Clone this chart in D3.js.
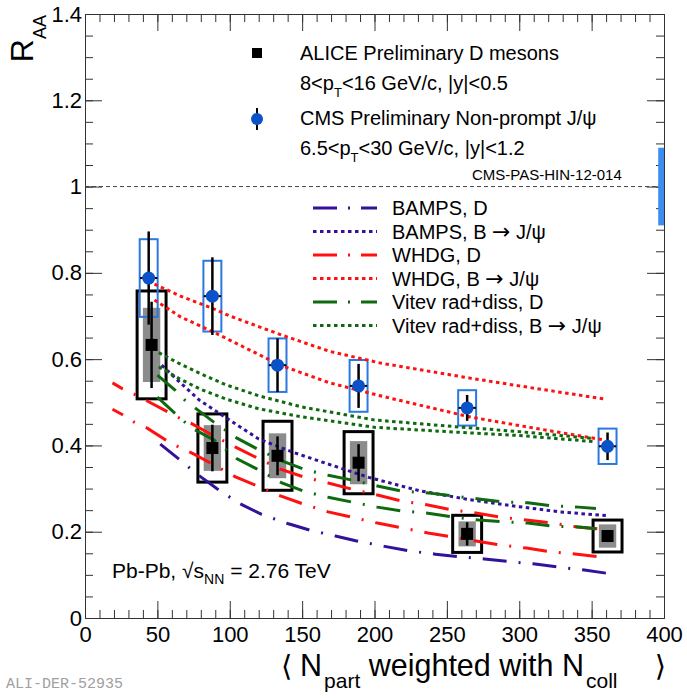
<!DOCTYPE html>
<html>
<head>
<meta charset="utf-8">
<script src="https://cdn.jsdelivr.net/npm/d3@7"></script>
<style>
body { margin: 0; background: #fff; }
svg { font-family: "Liberation Sans", Arial, Helvetica, sans-serif; }
</style>
</head>
<body>
<div id="chart"></div>
<script>
// ALICE preliminary D mesons
var aliceNpart = [46, 88, 133, 189, 264, 361];
var aliceRaa   = [0.633, 0.394, 0.376, 0.360, 0.195, 0.190];
var aliceStat  = [0.100, 0.054, 0.045, 0.043, 0.027, 0.010];
var aliceSystUncorr = [0.086, 0.053, 0.052, 0.050, 0.029, 0.027];
var aliceSystTot    = [0.125, 0.079, 0.080, 0.072, 0.043, 0.037];

// CMS preliminary non-prompt J/psi
var cmsNpart = [44, 88, 133, 189, 264, 361];
var cmsRaa   = [0.788, 0.746, 0.586, 0.538, 0.487, 0.398];
var cmsStat  = [0.108, 0.090, 0.062, 0.051, 0.030, 0.032];
var cmsSyst  = [0.090, 0.082, 0.062, 0.060, 0.041, 0.041];
var cmsGlobal = 0.09;

// models
var bampsDX = [52, 65, 78, 91, 107, 122, 140, 155, 173, 187, 207, 223, 242, 258, 276, 292, 311, 327, 345, 362];
var bampsDY = [0.403, 0.368, 0.332, 0.300, 0.265, 0.240, 0.219, 0.204, 0.190, 0.179, 0.166, 0.156, 0.148, 0.142, 0.137, 0.131, 0.125, 0.118, 0.111, 0.103];

var bampsBX = [53, 65, 79, 97, 120, 143, 166, 196, 231, 266, 300, 328, 361];
var bampsBY = [0.586, 0.548, 0.505, 0.465, 0.415, 0.385, 0.359, 0.326, 0.295, 0.274, 0.258, 0.246, 0.237];

var whdgDX    = [19, 26, 34, 43, 57, 65, 74, 88, 104, 119, 135, 151, 168, 184, 202, 219, 237, 254, 271, 287, 305, 323, 340, 357];
var whdgDHigh = [0.545, 0.531, 0.519, 0.503, 0.478, 0.464, 0.450, 0.424, 0.396, 0.371, 0.345, 0.327, 0.313, 0.299, 0.285, 0.271, 0.262, 0.250, 0.243, 0.234, 0.227, 0.220, 0.211, 0.206];
var whdgDLow  = [0.484, 0.471, 0.454, 0.440, 0.410, 0.396, 0.382, 0.357, 0.327, 0.306, 0.283, 0.264, 0.246, 0.234, 0.220, 0.209, 0.197, 0.188, 0.178, 0.169, 0.162, 0.153, 0.148, 0.141];

var whdgBX    = [48, 66, 88, 100, 135, 169, 204, 266, 300, 358];
var whdgBHigh = [0.774, 0.746, 0.718, 0.700, 0.657, 0.618, 0.591, 0.556, 0.538, 0.508];
var whdgBLow  = [0.737, 0.698, 0.664, 0.644, 0.586, 0.545, 0.515, 0.466, 0.446, 0.413];

var vitevDX    = [50, 62, 69, 76, 89, 105, 119, 136, 151, 168, 184, 202, 219, 237, 254, 272, 288, 306, 323, 341, 353];
var vitevDHigh = [0.563, 0.529, 0.505, 0.487, 0.454, 0.417, 0.392, 0.364, 0.345, 0.331, 0.320, 0.306, 0.294, 0.290, 0.283, 0.276, 0.269, 0.267, 0.260, 0.257, 0.254];
var vitevDLow  = [0.512, 0.475, 0.454, 0.436, 0.413, 0.369, 0.345, 0.313, 0.294, 0.280, 0.269, 0.257, 0.248, 0.243, 0.234, 0.227, 0.223, 0.220, 0.213, 0.211, 0.207];

var vitevBX    = [51, 65, 80, 97, 120, 150, 200, 250, 300, 351];
var vitevBHigh = [0.615, 0.590, 0.566, 0.541, 0.515, 0.489, 0.459, 0.445, 0.432, 0.416];
var vitevBLow  = [0.582, 0.555, 0.530, 0.508, 0.485, 0.466, 0.442, 0.432, 0.423, 0.409];

var modelNames = ["BAMPS, D", "BAMPS, B \u2192 J/\u03c8", "WHDG, D", "WHDG, B \u2192 J/\u03c8",
                  "Vitev rad+diss, D", "Vitev rad+diss, B \u2192 J/\u03c8"];

var xTicks = [0, 50, 100, 150, 200, 250, 300, 350, 400];
var xTickLabels = ["0", "50", "100", "150", "200", "250", "300", "350", "400"];
var yTicks = [0, 0.2, 0.4, 0.6, 0.8, 1, 1.2, 1.4];
var yTickLabels = ["0", "0.2", "0.4", "0.6", "0.8", "1", "1.2", "1.4"];

var width = 687, height = 698;
var plotLeft = 85, plotRight = 664, plotTop = 14, plotBottom = 618;

var blue = "#33119a", red = "#ff1111", green = "#0f6a0f";
var dashDot = "24,12,2,12", dotted = "3.5,3.5";

var svg = d3.select('#chart').append('svg')
    .attr('width', width)
    .attr('height', height);

var x = d3.scaleLinear().domain([0, 400]).range([plotLeft, plotRight]);
var y = d3.scaleLinear().domain([0, 1.4]).range([plotBottom, plotTop]);

// axes, ticks pointing into the frame
function styleAxis(sel) {
    sel.attr('font-size', 22).attr('font-family', '"Liberation Sans", Arial, sans-serif');
    sel.select('.domain').attr('stroke', '#333');
    sel.selectAll('.tick line').attr('stroke', '#333');
    sel.selectAll('.tick text').attr('fill', '#000');
}
var xMinor = d3.range(0, 401, 10);
var yMinor = d3.range(0, 1.401, 0.05);

svg.append('g').attr('transform', 'translate(0,' + plotBottom + ')')
    .call(d3.axisBottom(x).tickValues(xMinor).tickSize(-8).tickSizeOuter(0).tickFormat(''))
    .call(styleAxis);
svg.append('g').attr('transform', 'translate(0,' + plotBottom + ')')
    .call(d3.axisBottom(x).tickValues(xTicks).tickSize(-17).tickSizeOuter(0).tickPadding(8)
        .tickFormat(function (d, i) { return xTickLabels[i]; }))
    .call(styleAxis);
svg.append('g').attr('transform', 'translate(0,' + plotTop + ')')
    .call(d3.axisTop(x).tickValues(xMinor).tickSize(-8).tickSizeOuter(0).tickFormat(''))
    .call(styleAxis);
svg.append('g').attr('transform', 'translate(0,' + plotTop + ')')
    .call(d3.axisTop(x).tickValues(xTicks).tickSize(-17).tickSizeOuter(0).tickFormat(''))
    .call(styleAxis);

svg.append('g').attr('transform', 'translate(' + plotLeft + ',0)')
    .call(d3.axisLeft(y).tickValues(yMinor).tickSize(-8).tickSizeOuter(0).tickFormat(''))
    .call(styleAxis);
svg.append('g').attr('transform', 'translate(' + plotLeft + ',0)')
    .call(d3.axisLeft(y).tickValues(yTicks).tickSize(-17).tickSizeOuter(0).tickPadding(3)
        .tickFormat(function (d, i) { return yTickLabels[i]; }))
    .call(styleAxis);
svg.append('g').attr('transform', 'translate(' + plotRight + ',0)')
    .call(d3.axisRight(y).tickValues(yMinor).tickSize(-8).tickSizeOuter(0).tickFormat(''))
    .call(styleAxis);
svg.append('g').attr('transform', 'translate(' + plotRight + ',0)')
    .call(d3.axisRight(y).tickValues(yTicks).tickSize(-17).tickSizeOuter(0).tickFormat(''))
    .call(styleAxis);

// unity line
svg.append('line')
    .attr('x1', x(0)).attr('x2', x(400))
    .attr('y1', y(1)).attr('y2', y(1))
    .attr('stroke', '#444').attr('stroke-width', 1)
    .attr('stroke-dasharray', '4,3');

// CMS global uncertainty
svg.append('rect')
    .attr('x', x(396)).attr('width', x(400) - x(396))
    .attr('y', y(1 + cmsGlobal)).attr('height', y(1 - cmsGlobal) - y(1 + cmsGlobal))
    .attr('fill', '#3a8ef2');

// boxes
var alice = aliceNpart.map(function (n, i) {
    return {x: n, y: aliceRaa[i], stat: aliceStat[i], su: aliceSystUncorr[i], st: aliceSystTot[i]};
});
var cms = cmsNpart.map(function (n, i) {
    return {x: n, y: cmsRaa[i], stat: cmsStat[i], syst: cmsSyst[i]};
});

svg.selectAll('.gbox').data(alice).enter().append('rect')
    .attr('x', function (d) { return x(d.x - 6); })
    .attr('width', x(12) - x(0))
    .attr('y', function (d) { return y(d.y + d.su); })
    .attr('height', function (d) { return y(d.y - d.su) - y(d.y + d.su); })
    .attr('fill', '#8c8c8c');

svg.selectAll('.bbox').data(alice).enter().append('rect')
    .attr('x', function (d) { return x(d.x - 10); })
    .attr('width', x(20) - x(0))
    .attr('y', function (d) { return y(d.y + d.st); })
    .attr('height', function (d) { return y(d.y - d.st) - y(d.y + d.st); })
    .attr('fill', 'none').attr('stroke', '#000').attr('stroke-width', 3);

svg.selectAll('.cbox').data(cms).enter().append('rect')
    .attr('x', function (d) { return x(d.x - 6.2); })
    .attr('width', x(12.4) - x(0))
    .attr('y', function (d) { return y(d.y + d.syst); })
    .attr('height', function (d) { return y(d.y - d.syst) - y(d.y + d.syst); })
    .attr('fill', 'none').attr('stroke', '#2a78e0').attr('stroke-width', 2);

// model curves
var line = d3.line().x(function (d) { return x(d[0]); }).y(function (d) { return y(d[1]); });
function curve(xs, ys, color, dash, offset) {
    svg.append('path')
        .datum(xs.map(function (v, i) { return [v, ys[i]]; }))
        .attr('d', line)
        .attr('fill', 'none')
        .attr('stroke', color)
        .attr('stroke-width', 3)
        .attr('stroke-dasharray', dash)
        .attr('stroke-dashoffset', offset || 0);
}
curve(bampsDX, bampsDY, blue, dashDot, 0);
curve(bampsBX, bampsBY, blue, dotted);
curve(whdgDX, whdgDHigh, red, dashDot, 12);
curve(whdgDX, whdgDLow, red, dashDot, 12);
curve(whdgBX, whdgBHigh, red, dotted);
curve(whdgBX, whdgBLow, red, dotted);
curve(vitevDX, vitevDHigh, green, dashDot, 0);
curve(vitevDX, vitevDLow, green, dashDot, 0);
curve(vitevBX, vitevBHigh, green, dotted);
curve(vitevBX, vitevBLow, green, dotted);

// stat error bars
svg.selectAll('.aerr').data(alice).enter().append('line')
    .attr('x1', function (d) { return x(d.x); }).attr('x2', function (d) { return x(d.x); })
    .attr('y1', function (d) { return y(d.y + d.stat); })
    .attr('y2', function (d) { return y(d.y - d.stat); })
    .attr('stroke', '#000').attr('stroke-width', 2.5);

svg.selectAll('.cerr').data(cms).enter().append('line')
    .attr('x1', function (d) { return x(d.x); }).attr('x2', function (d) { return x(d.x); })
    .attr('y1', function (d) { return y(d.y + d.stat); })
    .attr('y2', function (d) { return y(d.y - d.stat); })
    .attr('stroke', '#000').attr('stroke-width', 2.5);
svg.selectAll('.cerrx').data(cms).enter().append('line')
    .attr('x1', function (d) { return x(d.x - 6); }).attr('x2', function (d) { return x(d.x + 6); })
    .attr('y1', function (d) { return y(d.y); })
    .attr('y2', function (d) { return y(d.y); })
    .attr('stroke', '#000').attr('stroke-width', 2);

// markers
svg.selectAll('.asq').data(alice).enter().append('rect')
    .attr('x', function (d) { return x(d.x) - 6; })
    .attr('y', function (d) { return y(d.y) - 6; })
    .attr('width', 12).attr('height', 12)
    .attr('fill', '#000');

svg.selectAll('.cdot').data(cms).enter().append('circle')
    .attr('cx', function (d) { return x(d.x); })
    .attr('cy', function (d) { return y(d.y); })
    .attr('r', 6.5)
    .attr('fill', '#0b52c8');

// data legend
svg.append('rect').attr('x', 252).attr('y', 48).attr('width', 10).attr('height', 10).attr('fill', '#000');
svg.append('line').attr('x1', 257).attr('x2', 257).attr('y1', 108).attr('y2', 130)
    .attr('stroke', '#000').attr('stroke-width', 2);
svg.append('circle').attr('cx', 257).attr('cy', 119).attr('r', 6).attr('fill', '#0b52c8');

svg.append('text').attr('x', 300).attr('y', 60).attr('font-size', 20)
    .text('ALICE Preliminary D mesons');
var t1 = svg.append('text').attr('x', 300).attr('y', 90).attr('font-size', 20);
t1.append('tspan').text('8<p');
t1.append('tspan').attr('font-size', 13).attr('dy', 7).text('T');
t1.append('tspan').attr('dy', -7).text('<16 GeV/c, |y|<0.5');

svg.append('text').attr('x', 300).attr('y', 125).attr('font-size', 20)
    .text('CMS Preliminary Non-prompt J/\u03c8');
var t2 = svg.append('text').attr('x', 300).attr('y', 155).attr('font-size', 20);
t2.append('tspan').text('6.5<p');
t2.append('tspan').attr('font-size', 13).attr('dy', 7).text('T');
t2.append('tspan').attr('dy', -7).text('<30 GeV/c, |y|<1.2');

svg.append('text').attr('x', 472).attr('y', 180).attr('font-size', 15)
    .text('CMS-PAS-HIN-12-014');

// model legend
var legendStyles = [[blue, dashDot], [blue, dotted], [red, dashDot], [red, dotted], [green, dashDot], [green, dotted]];
modelNames.forEach(function (name, i) {
    var cy = 208 + i * 23.5;
    svg.append('line')
        .attr('x1', 313).attr('x2', 377).attr('y1', cy).attr('y2', cy)
        .attr('stroke', legendStyles[i][0]).attr('stroke-width', 3)
        .attr('stroke-dasharray', legendStyles[i][1] === dashDot ? '24,11,2,11' : dotted);
    var t = svg.append('text').attr('x', 392).attr('y', cy + 7).attr('font-size', 20);
    var parts = name.split('\u2192');
    t.append('tspan').text(parts[0]);
    if (parts.length > 1) {
        t.append('tspan').attr('font-family', '"DejaVu Sans", sans-serif').attr('font-size', 22)
            .text('\u2192');
        t.append('tspan').text(parts[1]);
    }
});

// system label
var t3 = svg.append('text').attr('x', 112).attr('y', 578).attr('font-size', 21);
t3.append('tspan').text('Pb-Pb, \u221a');
t3.append('tspan').text('s');
t3.append('tspan').attr('font-size', 14).attr('dy', 6).text('NN');
t3.append('tspan').attr('dy', -6).text(' = 2.76 TeV');

// axis titles
var yl = svg.append('text')
    .attr('transform', 'translate(33,15) rotate(-90)')
    .attr('text-anchor', 'end')
    .attr('font-size', 32);
yl.append('tspan').text('R');
yl.append('tspan').attr('font-size', 18).attr('dy', 13).text('AA');

svg.append('text').attr('x', 281).attr('y', 676).attr('font-size', 29)
    .attr('font-family', '"DejaVu Sans", sans-serif').text('\u27e8');
var xl = svg.append('text').attr('x', 300).attr('y', 676).attr('font-size', 30.5);
xl.append('tspan').text('N');
xl.append('tspan').attr('font-size', 21).attr('dy', 12).attr('dx', 2).text('part');
xl.append('tspan').attr('dy', -12).text(' weighted with N');
xl.append('tspan').attr('font-size', 21).attr('dy', 12).attr('dx', 2).text('coll');
svg.append('text').attr('x', 666).attr('y', 676).attr('text-anchor', 'end').attr('font-size', 29)
    .attr('font-family', '"DejaVu Sans", sans-serif').text('\u27e9');

svg.append('text').attr('x', 6).attr('y', 688).attr('font-size', 15)
    .attr('font-family', '"Liberation Mono", "DejaVu Sans Mono", monospace')
    .attr('fill', '#a0a0a0').text('ALI-DER-52935');
</script>
</body>
</html>
